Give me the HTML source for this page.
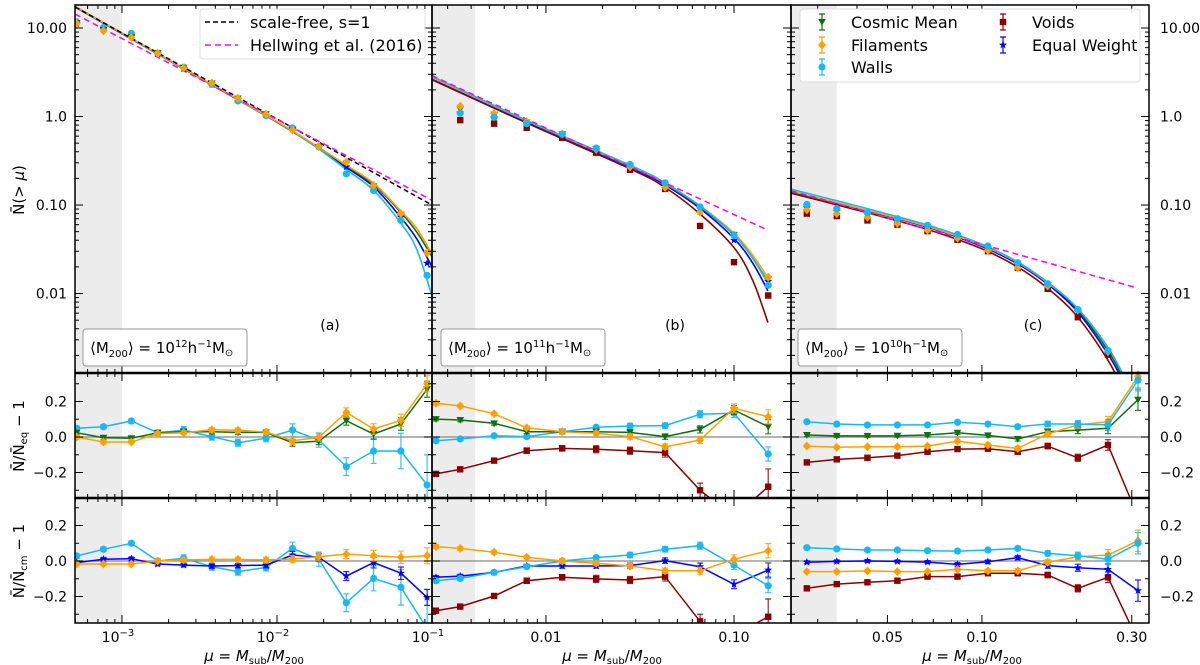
<!DOCTYPE html>
<html><head><meta charset="utf-8"><style>
html,body{margin:0;padding:0;background:#fff;}
svg{display:block;font-family:"DejaVu Sans","Liberation Sans",sans-serif;}
</style></head><body>
<svg id="chart" width="1200" height="665" viewBox="0 0 1200 665" xmlns="http://www.w3.org/2000/svg"></svg>
<script>
// ---------- DATA ----------
const muA=[0.00051,0.00076,0.00115,0.0017,0.0025,0.0038,0.0056,0.0085,0.0126,0.0186,0.028,0.042,0.063,0.093];
const muB=[0.0026,0.0035,0.0053,0.0079,0.0122,0.0185,0.028,0.043,0.066,0.1,0.152];
const muBtop=[0.0035,0.0053,0.0079,0.0122,0.0185,0.028,0.043,0.066,0.1,0.152];
const muC=[0.0277,0.0345,0.0432,0.0538,0.0671,0.0836,0.1045,0.130,0.162,0.202,0.252,0.314];

const topA_eq=[11.2,9.6,8.0,5.1,3.45,2.3,1.55,1.03,0.72,0.46,0.27,0.16,0.073,0.022];
const topA_cm=[11.4,9.5,7.9,5.2,3.55,2.37,1.6,1.06,0.70,0.45,0.295,0.163,0.078,0.028];
const topA_fil=[11.2,9.3,7.8,5.2,3.55,2.4,1.61,1.06,0.705,0.46,0.305,0.167,0.08,0.029];
const topA_wal=[11.7,10.1,8.7,5.2,3.6,2.3,1.5,1.02,0.745,0.455,0.225,0.146,0.067,0.016];

const topB_eq=[1.1,0.975,0.83,0.615,0.416,0.27,0.167,0.084,0.040,0.0137];
const topB_cm=[1.21,1.05,0.855,0.63,0.43,0.277,0.167,0.088,0.046,0.0145];
const topB_fil=[1.31,1.08,0.875,0.635,0.425,0.27,0.158,0.083,0.046,0.0153];
const topB_wal=[1.09,0.98,0.83,0.63,0.44,0.287,0.178,0.095,0.0455,0.0124];
const topB_voi=[0.91,0.83,0.745,0.575,0.39,0.25,0.152,0.058,0.0226,0.0095];

const topC_eq=[0.093,0.085,0.077,0.0655,0.055,0.0432,0.032,0.0209,0.0121,0.0062,0.0021,0.0009];
const topC_cm=[0.094,0.085,0.077,0.0655,0.0555,0.0435,0.0322,0.0206,0.0124,0.0064,0.0022,0.0011];
const topC_fil=[0.088,0.080,0.073,0.062,0.052,0.0422,0.0307,0.0195,0.0122,0.0065,0.0022,0.0012];
const topC_wal=[0.1016,0.091,0.082,0.070,0.059,0.0466,0.0344,0.0223,0.0129,0.0066,0.00226,0.0012];
const topC_voi=[0.080,0.075,0.067,0.060,0.0507,0.0405,0.0301,0.0195,0.0113,0.0054,0.00204,0.0005];

// residuals relative to equal weight (middle row)
const midA_cm=[0.024,-0.004,-0.007,0.024,0.03,0.03,0.026,0.026,-0.032,-0.023,0.092,0.017,0.073,0.269];
const midA_fil=[0.0,-0.028,-0.028,0.019,0.024,0.041,0.038,0.028,-0.021,-0.002,0.139,0.045,0.094,0.30];
const midA_wal=[0.049,0.058,0.09,0.024,0.039,0.002,-0.032,-0.007,0.039,-0.017,-0.167,-0.079,-0.079,-0.27];
const midB_cm=[0.101,0.096,0.077,0.03,0.03,0.03,0.026,0.002,0.043,0.152,0.058];
const midB_fil=[0.19,0.175,0.131,0.052,0.03,0.021,0.002,-0.055,-0.017,0.162,0.114];
const midB_wal=[-0.021,-0.011,0.007,0.002,0.03,0.055,0.062,0.064,0.128,0.134,-0.096];
const midB_voi=[-0.208,-0.182,-0.133,-0.077,-0.064,-0.069,-0.077,-0.088,-0.30,-0.45,-0.28];
const midC_cm=[0.011,0.006,0.006,0.007,0.011,0.024,0.009,-0.011,0.03,0.039,0.049,0.21];
const midC_fil=[-0.051,-0.058,-0.055,-0.055,-0.051,-0.023,-0.045,-0.064,0.017,0.068,0.086,0.34];
const midC_wal=[0.086,0.073,0.068,0.068,0.068,0.083,0.073,0.058,0.073,0.073,0.068,0.32];
const midC_voi=[-0.143,-0.126,-0.117,-0.105,-0.083,-0.068,-0.066,-0.083,-0.051,-0.117,-0.045,-0.45];

// residuals relative to cosmic mean (bottom row)
const botA_fil=[-0.017,-0.017,-0.017,0.0,0.006,0.009,0.009,0.006,0.011,0.024,0.039,0.03,0.021,0.03];
const botA_wal=[0.028,0.066,0.1,0.0,0.015,-0.032,-0.06,-0.036,0.071,0.01,-0.235,-0.098,-0.148,-0.38];
const botA_eq=[-0.009,0.01,0.013,-0.017,-0.023,-0.028,-0.026,-0.023,0.034,0.021,-0.085,-0.009,-0.069,-0.205];
const botB_fil=[0.081,0.071,0.049,0.021,0.0,-0.013,-0.028,-0.055,-0.055,0.01,0.058];
const botB_wal=[-0.111,-0.098,-0.064,-0.032,0.0,0.019,0.034,0.066,0.086,-0.023,-0.139];
const botB_voi=[-0.28,-0.257,-0.197,-0.111,-0.092,-0.101,-0.107,-0.088,-0.34,-0.42,-0.314];
const botB_eq=[-0.092,-0.085,-0.064,-0.028,-0.028,-0.028,-0.026,0.002,-0.032,-0.131,-0.051];
const botC_fil=[-0.06,-0.06,-0.056,-0.06,-0.06,-0.047,-0.055,-0.055,-0.007,0.024,0.034,0.114];
const botC_wal=[0.075,0.068,0.062,0.062,0.058,0.056,0.062,0.071,0.043,0.03,0.01,0.1];
const botC_voi=[-0.154,-0.13,-0.12,-0.111,-0.088,-0.088,-0.069,-0.069,-0.079,-0.154,-0.092,-0.45];
const botC_eq=[-0.007,-0.002,0.0,-0.002,-0.006,-0.019,-0.004,0.019,-0.026,-0.038,-0.047,-0.167];

// error bars
const errA=[0.01,0.01,0.01,0.01,0.01,0.012,0.012,0.015,0.02,0.02,0.025,0.03,0.035,0.045];
const errA_wal=[0.012,0.012,0.012,0.015,0.02,0.02,0.02,0.02,0.035,0.04,0.05,0.07,0.1,0.17];
const errB=[0.01,0.01,0.01,0.01,0.012,0.012,0.015,0.015,0.02,0.025,0.04];
const errB_voi=[0.01,0.012,0.012,0.015,0.015,0.02,0.02,0.025,0.04,0.06,0.1];
const errC=[0.008,0.008,0.008,0.008,0.008,0.01,0.01,0.012,0.015,0.02,0.03,0.06];

// fitted curves (log10 mu knots, N values)
const fitLogA=[-3.303,-2.5,-2.0,-1.75,-1.55,-1.374,-1.2,-1.1,-1.0];
const fitA_eq=[17.3,2.73,0.86,0.46,0.265,0.16,0.072,0.042,0.02];
const fitA_cm=[17.5,2.76,0.87,0.47,0.275,0.17,0.082,0.05,0.026];
const fitA_fil=[17.6,2.77,0.875,0.47,0.28,0.175,0.085,0.055,0.028];
const fitA_wal=[17.4,2.74,0.86,0.455,0.25,0.145,0.062,0.032,0.0095];
const fitLogB=[-2.606,-2.1,-1.55,-1.37,-1.18,-1.0,-0.9,-0.82];
const fitB_eq=[2.7,0.87,0.265,0.17,0.091,0.042,0.022,0.0107];
const fitB_cm=[2.75,0.88,0.27,0.175,0.095,0.046,0.025,0.0135];
const fitB_fil=[2.75,0.89,0.275,0.178,0.098,0.048,0.027,0.015];
const fitB_wal=[2.85,0.9,0.28,0.18,0.097,0.046,0.025,0.013];
const fitB_voi=[2.6,0.84,0.255,0.16,0.079,0.033,0.014,0.0047];
const fitLogC=[-1.608,-1.45,-1.3,-1.15,-1.0,-0.89,-0.8,-0.7,-0.6,-0.55,-0.5];
const fitC_eq=[0.143,0.103,0.075,0.053,0.034,0.022,0.0135,0.0065,0.0021,0.001,0.0004];
const fitC_cm=[0.140,0.102,0.075,0.0535,0.0345,0.0225,0.0138,0.0068,0.0023,0.0011,0.00045];
const fitC_fil=[0.144,0.104,0.076,0.054,0.035,0.0228,0.014,0.0071,0.0025,0.0012,0.0005];
const fitC_wal=[0.151,0.109,0.079,0.056,0.036,0.0232,0.0142,0.0071,0.0025,0.0012,0.0005];
const fitC_voi=[0.136,0.098,0.071,0.050,0.032,0.0203,0.0122,0.0057,0.0018,0.0008,0.0003];
// reference power laws [log mu start, log mu end], [N start, N end]
const scaleFreeLogA=[-3.303,-1.0];
const scaleFreeA=[17.3,0.10];
const hellLogA=[-3.303,-1.0];
const hellA=[14.4,0.113];
const hellLogB=[-2.606,-0.82];
const hellB=[2.9,0.052];
const hellLogC=[-1.608,-0.507];
const hellC=[0.145,0.0116];

const massLabels=['12','11','10'];
const panelTags=['(a)','(b)','(c)'];

// ---------- GEOMETRY ----------
const NS='http://www.w3.org/2000/svg';
const svg=document.getElementById('chart');
const COL={cm:'#0d7010',fil:'#ffa000',wal:'#18b8f5',voi:'#8b0000',eq:'#0000ff'};
const panels=[{x0:75,x1:432,lmin:-3.303,lmax:-1.0},{x0:432,x1:791,lmin:-2.606,lmax:-0.697},{x0:791,x1:1149,lmin:-1.608,lmax:-0.468}];
const rows=[{y0:5,y1:373},{y0:373,y1:498},{y0:498,y1:623}];
const TOPMAX=1.26,TOPMIN=-2.898;
function xs(p,mu){return p.x0+(Math.log10(mu)-p.lmin)/(p.lmax-p.lmin)*(p.x1-p.x0);}
function xl(p,l){return p.x0+(l-p.lmin)/(p.lmax-p.lmin)*(p.x1-p.x0);}
function ty(n){return 5+(TOPMAX-Math.log10(n))/(TOPMAX-TOPMIN)*368;}
function my(v){return 437-v*177.5;}
function by(v){return 561-v*177.5;}
function mk(tag,attrs,parent){const e=document.createElementNS(NS,tag);for(const k in attrs)e.setAttribute(k,attrs[k]);(parent||svg).appendChild(e);return e;}

// defs / clips
const defs=mk('defs',{});


panels.forEach((p,i)=>rows.forEach((r,j)=>{
  const cp=mk('clipPath',{id:'c'+i+j},defs);
  
  
  const rc=mk('rect',{x:p.x0,y:r.y0,width:p.x1-p.x0,height:r.y1-r.y0},cp);
  
  
}));

// shaded resolution regions
const shadeEnd=[0.001,0.0042,0.0345];
panels.forEach((p,i)=>{
  const sx=xs(p,shadeEnd[i]);
  const s=mk('rect',{x:p.x0,y:5,width:sx-p.x0,height:618,fill:'#ececec'});
  
  
});

// zero lines in residual rows
panels.forEach(p=>{[437,561].forEach(yy=>{
  const l=mk('line',{x1:p.x0,x2:p.x1,y1:yy,y2:yy,stroke:'#888',"stroke-width":1.2});
  
  
});});

function marker(key,x,y,g){
  let e;const c=COL[key];
  if(key==='cm') e=mk('polygon',{points:`${x-3.8},${y-3} ${x+3.8},${y-3} ${x},${y+3.8}`,fill:c},g);
  else if(key==='fil') e=mk('polygon',{points:`${x},${y-4.5} ${x+4},${y} ${x},${y+4.5} ${x-4},${y}`,fill:c},g);
  else if(key==='wal') e=mk('circle',{cx:x,cy:y,r:3.6,fill:c},g);
  else if(key==='voi') e=mk('rect',{x:x-3.2,y:y-3.2,width:6.4,height:6.4,fill:c},g);
  else { let pts=[];for(let k=0;k<10;k++){const a=-Math.PI/2+k*Math.PI/5;const rr=k%2?1.8:4.2;pts.push((x+rr*Math.cos(a)).toFixed(1)+','+(y+rr*Math.sin(a)).toFixed(1));}
    e=mk('polygon',{points:pts.join(' '),fill:c},g);}
  
  
  return e;
}
function smoothPath(pts){
  let d='M'+pts[0][0].toFixed(1)+','+pts[0][1].toFixed(1);
  for(let i=0;i<pts.length-1;i++){
    const p0=pts[i-1]||pts[i],p1=pts[i],p2=pts[i+1],p3=pts[i+2]||p2;
    const c1=[p1[0]+(p2[0]-p0[0])/6,p1[1]+(p2[1]-p0[1])/6];
    const c2=[p2[0]-(p3[0]-p1[0])/6,p2[1]-(p3[1]-p1[1])/6];
    d+=` C${c1[0].toFixed(1)},${c1[1].toFixed(1)} ${c2[0].toFixed(1)},${c2[1].toFixed(1)} ${p2[0].toFixed(1)},${p2[1].toFixed(1)}`;
  }
  return d;
}

// ---------- TOP ROW ----------
const topSets=[
 {p:0,mu:muA,logs:fitLogA,ser:[['eq',topA_eq,fitA_eq],['wal',topA_wal,fitA_wal],['cm',topA_cm,fitA_cm],['fil',topA_fil,fitA_fil]],hl:[hellLogA,hellA],sf:[scaleFreeLogA,scaleFreeA]},
 {p:1,mu:muBtop,logs:fitLogB,ser:[['voi',topB_voi,fitB_voi],['eq',topB_eq,fitB_eq],['cm',topB_cm,fitB_cm],['fil',topB_fil,fitB_fil],['wal',topB_wal,fitB_wal]],hl:[hellLogB,hellB]},
 {p:2,mu:muC,logs:fitLogC,ser:[['voi',topC_voi,fitC_voi],['cm',topC_cm,fitC_cm],['eq',topC_eq,fitC_eq],['fil',topC_fil,fitC_fil],['wal',topC_wal,fitC_wal]],hl:[hellLogC,hellC]}
];
topSets.forEach(ts=>{
  const p=panels[ts.p];
  const g=mk('g',{'clip-path':`url(#c${ts.p}0)`});
  
  
  ts.ser.forEach(([key,vals,fit])=>{
    const pts=ts.logs.map((l,i)=>[xl(p,l),ty(fit[i])]);
    const path=mk('path',{d:smoothPath(pts),fill:'none',stroke:COL[key],'stroke-width':1.6},g);
    
    
  });
  if(ts.sf){
    const l=mk('line',{x1:xl(p,ts.sf[0][0]),y1:ty(ts.sf[1][0]),x2:xl(p,ts.sf[0][1]),y2:ty(ts.sf[1][1]),stroke:'#000','stroke-width':1.5,'stroke-dasharray':'5,3'},g);
    
    
  }
  const h=mk('line',{x1:xl(p,ts.hl[0][0]),y1:ty(ts.hl[1][0]),x2:xl(p,ts.hl[0][1]),y2:ty(ts.hl[1][1]),stroke:'#ff00ff','stroke-width':1.5,'stroke-dasharray':'6,4'},g);
  
  
  ts.ser.forEach(([key,vals])=>{
    vals.forEach((v,i)=>marker(key,xs(p,ts.mu[i]),ty(v),g));
  });
});

// ---------- RESIDUAL ROWS ----------
const resSets=[
 {p:0,r:1,mu:muA,f:my,ser:[['wal',midA_wal,errA_wal],['cm',midA_cm,errA],['fil',midA_fil,errA]]},
 {p:1,r:1,mu:muB,f:my,ser:[['voi',midB_voi,errB_voi],['wal',midB_wal,errB],['cm',midB_cm,errB],['fil',midB_fil,errB]]},
 {p:2,r:1,mu:muC,f:my,ser:[['voi',midC_voi,errC],['cm',midC_cm,errC],['fil',midC_fil,errC],['wal',midC_wal,errC]]},
 {p:0,r:2,mu:muA,f:by,ser:[['wal',botA_wal,errA_wal],['eq',botA_eq,errA],['fil',botA_fil,errA]]},
 {p:1,r:2,mu:muB,f:by,ser:[['voi',botB_voi,errB_voi],['eq',botB_eq,errB],['wal',botB_wal,errB],['fil',botB_fil,errB]]},
 {p:2,r:2,mu:muC,f:by,ser:[['voi',botC_voi,errC],['eq',botC_eq,errC],['fil',botC_fil,errC],['wal',botC_wal,errC]]}
];
resSets.forEach(rs=>{
  const p=panels[rs.p];
  const g=mk('g',{'clip-path':`url(#c${rs.p}${rs.r})`});
  
  
  rs.ser.forEach(([key,vals,err])=>{
    const pts=vals.map((v,i)=>[xs(p,rs.mu[i]),rs.f(v)]);
    const pl=mk('polyline',{points:pts.map(q=>q[0].toFixed(1)+','+q[1].toFixed(1)).join(' '),fill:'none',stroke:COL[key],'stroke-width':1.5},g);
    
    
    vals.forEach((v,i)=>{
      const x=xs(p,rs.mu[i]),ya=rs.f(v+err[i]),yb=rs.f(v-err[i]);
      const eb=mk('path',{d:`M${x},${ya} V${yb} M${x-3},${ya} H${x+3} M${x-3},${yb} H${x+3}`,stroke:COL[key],'stroke-width':1.2,fill:'none',opacity:0.85},g);
      
      
      marker(key,x,rs.f(v),g);
    });
  });
});

// ---------- AXES, TICKS ----------
function tick(x1,y1,x2,y2,name){
  const t=mk('line',{x1,y1,x2,y2,stroke:'#000','stroke-width':1});
  
  
}
const xMajor=[[0.001,0.01,0.1],[0.01,0.1],[0.05,0.1,0.3]];
panels.forEach((p,i)=>{
  const lo=Math.pow(10,p.lmin),hi=Math.pow(10,p.lmax);
  const vals=[];
  for(let d=-5;d<1;d++)for(let k=1;k<10;k++){const v=k*Math.pow(10,d);if(v>=lo*1.001&&v<=hi*0.999)vals.push(v);}
  vals.forEach(v=>{
    const maj=xMajor[i].some(m=>Math.abs(m-v)/m<1e-6);
    const x=xs(p,v);const L=maj?8:4;
    rows.forEach(r=>{tick(x,r.y0,x,r.y0+L,'x-tick');tick(x,r.y1,x,r.y1-L,'x-tick');});
  });
  for(let d=-3;d<2;d++)for(let k=1;k<10;k++){
    const v=k*Math.pow(10,d);const lv=Math.log10(v);
    if(lv<TOPMIN||lv>TOPMAX)continue;
    const y=ty(v);const L=k===1?8:4;
    tick(p.x0,y,p.x0+L,y,'y-tick');tick(p.x1,y,p.x1-L,y,'y-tick');
  }
  [-0.3,-0.2,-0.1,0,0.1,0.2,0.3].forEach(v=>{
    const maj=Math.abs(Math.round(v*10))%2===0;const L=maj?8:4;
    [my(v),by(v)].forEach(y=>{tick(p.x0,y,p.x0+L,y,'y-tick');tick(p.x1,y,p.x1-L,y,'y-tick');});
  });
  rows.forEach(r=>{
    const fr=mk('rect',{x:p.x0,y:r.y0,width:p.x1-p.x0,height:r.y1-r.y0,fill:'none',stroke:'#000','stroke-width':1.5});
    
    
  });
});
[373,498].forEach(yy=>{
  const l=mk('line',{x1:75,x2:1149,y1:yy,y2:yy,stroke:'#000','stroke-width':2.5});
  
  
});

function txt(x,y,s,opts,name){
  const t=mk('text',Object.assign({x,y,'font-size':14,fill:'#000'},opts||{}));
  t.innerHTML=s;
  
  
  return t;
}
const topTickVals=[10,1,0.1,0.01];
const topTickText=['10.00','1.0','0.10','0.01'];
topTickVals.forEach((v,i)=>{
  txt(67,ty(v)+5,topTickText[i],{'text-anchor':'end'},'y-tick-label');
  txt(1160,ty(v)+5,topTickText[i],{},'y-tick-label-right');
});
const resTickVals=[0.2,0,-0.2];
const resTickText=['0.2','0.0','\u22120.2'];
resTickVals.forEach((v,i)=>{
  [my(v),by(v)].forEach(y=>{
    txt(67,y+5,resTickText[i],{'text-anchor':'end'},'y-tick-label');
    txt(1160,y+5,resTickText[i],{},'y-tick-label-right');
  });
});
const xTickA=[['10<tspan font-size="10" dy="-6">\u22123</tspan>',0.001],['10<tspan font-size="10" dy="-6">\u22122</tspan>',0.01],['10<tspan font-size="10" dy="-6">\u22121</tspan>',0.1]];
xTickA.forEach(([s,v])=>txt(xs(panels[0],v)-4,642,s,{'text-anchor':'middle'},'x-tick-label'));
[['0.01',0.01],['0.10',0.1]].forEach(([s,v])=>txt(xs(panels[1],v),642,s,{'text-anchor':'middle'},'x-tick-label'));
[['0.05',0.05],['0.10',0.1],['0.30',0.3]].forEach(([s,v])=>txt(xs(panels[2],v),642,s,{'text-anchor':'middle'},'x-tick-label'));
[254,612,972].forEach(x=>txt(x,661,'<tspan font-style="italic">\u03bc</tspan> = <tspan font-style="italic">M</tspan><tspan font-size="10" dy="3">sub</tspan><tspan dy="-3">/</tspan><tspan font-style="italic">M</tspan><tspan font-size="10" dy="3">200</tspan>',{'text-anchor':'middle','font-size':15},'x-axis-title'));
txt(0,0,'N\u0304(&gt; <tspan font-style="italic">\u03bc</tspan>)',{'text-anchor':'middle','font-size':15,transform:'translate(24,190) rotate(-90)'},'y-axis-title-cumulative');
txt(0,0,'N\u0304/N\u0304<tspan font-size="10" dy="3">eq</tspan><tspan dy="-3"> \u2212 1</tspan>',{'text-anchor':'middle','font-size':15,transform:'translate(24,436) rotate(-90)'},'y-axis-title-ratio-eq');
txt(0,0,'N\u0304/N\u0304<tspan font-size="10" dy="3">cm</tspan><tspan dy="-3"> \u2212 1</tspan>',{'text-anchor':'middle','font-size':15,transform:'translate(24,561) rotate(-90)'},'y-axis-title-ratio-cm');

const boxX=[83,441,798];
const tagX=[330,675,1033];
panels.forEach((p,i)=>{
  const b=mk('rect',{x:boxX[i],y:329,width:164,height:37,rx:3,fill:'#fff',stroke:'#999','stroke-width':1});
  
  
  txt(boxX[i]+7,353,'\u27e8M<tspan font-size="10" dy="4">200</tspan><tspan dy="-4">\u27e9 = 10</tspan><tspan font-size="10" dy="-6">'+massLabels[i]+'</tspan><tspan dy="6">h</tspan><tspan font-size="10" dy="-6">\u22121</tspan><tspan dy="6">M</tspan><tspan font-size="10" dy="3">\u2299</tspan>',{'font-size':15},'halo-mass-label');
  txt(tagX[i],330,panelTags[i],{'text-anchor':'middle','font-size':14},'panel-tag');
});

const lg1=mk('rect',{x:200,y:9,width:225,height:50,rx:3,fill:'#fff',stroke:'#ddd','stroke-width':1,opacity:0.9});


[['#000','scale-free, s=1',22,'5,3'],['#ff00ff','Hellwing et al. (2016)',45,'6,4']].forEach(([c,s,y,da])=>{
  const l=mk('line',{x1:205,x2:238,y1:y,y2:y,stroke:c,'stroke-width':1.5,'stroke-dasharray':da});
  
  
  txt(250,y+6,s,{'font-size':16},'legend-entry-label');
});
const lg2=mk('rect',{x:800,y:9,width:340,height:73,rx:3,fill:'#fff',stroke:'#ddd','stroke-width':1,opacity:0.9});


[['cm','Cosmic Mean',822,22],['fil','Filaments',822,45],['wal','Walls',822,67],['voi','Voids',1003,22],['eq','Equal Weight',1003,45]].forEach(([k,s,x,y])=>{
  const eb=mk('path',{d:`M${x},${y-8} V${y+8} M${x-3},${y-8} H${x+3} M${x-3},${y+8} H${x+3}`,stroke:COL[k],'stroke-width':1.2,fill:'none'});
  
  
  marker(k,x,y,svg);
  txt(x+29,y+6,s,{'font-size':16},'legend-entry-label');
});
</script>
</body></html>
